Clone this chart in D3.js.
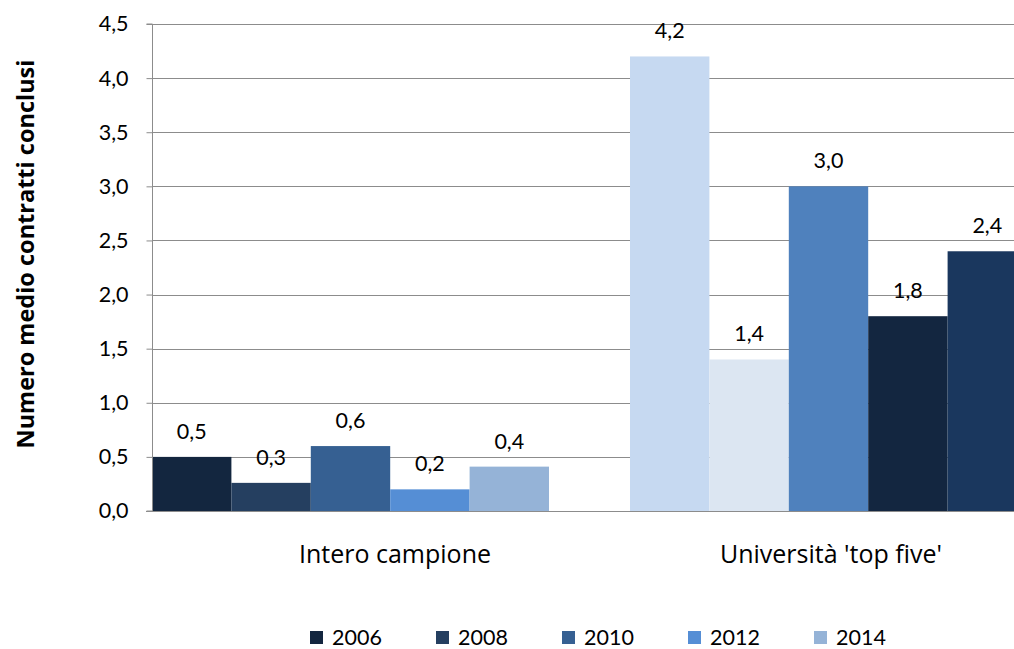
<!DOCTYPE html>
<html><head><meta charset="utf-8">
<script src="https://cdn.jsdelivr.net/npm/d3@7"></script>
<style>body{margin:0;background:#fff}svg{display:block}text{font-family:Lato,"Open Sans",sans-serif;fill:#000}</style>
</head><body><svg id="c" width="1014" height="649"></svg>
<script>
const groups = ["Intero campione", "Università 'top five'"];
const years = ["2006", "2008", "2010", "2012", "2014"];
const valuesIntero = [0.5, 0.26, 0.6, 0.2, 0.41];
const valuesTop = [4.2, 1.4, 3.0, 1.8, 2.4];
const colorsIntero = ["#13263f", "#253f60", "#366092", "#558ed5", "#95b3d7"];
const colorsTop = ["#c6d9f1", "#dce6f2", "#4f81bd", "#132640", "#1a375e"];
const legendColors = ["#13263f", "#253f60", "#366092", "#558ed5", "#95b3d7"];
const yTicks = [0, 0.5, 1, 1.5, 2, 2.5, 3, 3.5, 4, 4.5];

const svg = d3.select("#c");
const fmt = v => d3.format(".1f")(v).replace(".", ",");
const y = d3.scaleLinear().domain([0, 4.5]).range([511, 24]);
const x0 = d3.scaleBand().domain(groups).range([152, 1027]).paddingInner(81/478).paddingOuter(0);
const x1 = d3.scaleBand().domain(years).range([0, x0.bandwidth()]);
const labelX = d3.scalePoint().domain(groups).range([395, 831]);

// gridlines
svg.append("g").selectAll("line").data(yTicks.filter(d => d > 0)).join("line")
  .attr("x1", 152).attr("x2", 1014).attr("y1", d => Math.round(y(d)) + 0.5).attr("y2", d => Math.round(y(d)) + 0.5)
  .attr("stroke", "#8c8c8c").attr("stroke-width", 1);

const data = [
  {g: groups[0], vals: valuesIntero, cols: colorsIntero},
  {g: groups[1], vals: valuesTop, cols: colorsTop}
];
data.forEach(grp => {
  const gg = svg.append("g").attr("transform", `translate(${x0(grp.g)},0)`);
  const rows = years.map((yr, i) => ({yr, v: grp.vals[i], c: grp.cols[i]}));
  gg.selectAll("rect").data(rows).join("rect")
    .attr("x", d => x1(d.yr)).attr("width", x1.bandwidth())
    .attr("y", d => y(d.v)).attr("height", d => y(0) - y(d.v))
    .attr("fill", d => d.c);
  gg.selectAll("text").data(rows).join("text")
    .attr("x", d => x1(d.yr) + x1.bandwidth() / 2).attr("y", d => y(d.v) - 18)
    .attr("text-anchor", "middle").style("font-size", "21.5px").text(d => fmt(d.v));
});

// y axis
const yAxis = svg.append("g").attr("transform", "translate(152.5,0)")
  .call(d3.axisLeft(y).tickValues(yTicks).tickSize(6).tickPadding(18).tickFormat(fmt));
yAxis.select(".domain").attr("stroke", "#8c8c8c").attr("d", `M-6,${y(4.5)}H0V${y(0)}H-6`);
yAxis.selectAll(".tick line").attr("stroke", "#8c8c8c");
yAxis.selectAll(".tick text").style("font-size", "21.5px").style("font-family", "Lato,'Open Sans',sans-serif").attr("fill", "#000");

// baseline
svg.append("line").attr("x1", 146).attr("x2", 1014).attr("y1", Math.round(y(0)) + 0.5).attr("y2", Math.round(y(0)) + 0.5)
  .attr("stroke", "#8c8c8c");

// category labels
svg.append("g").selectAll("text").data(groups).join("text")
  .attr("x", d => labelX(d)).attr("y", 563).attr("text-anchor", "middle")
  .style("font-family", "'Open Sans',sans-serif").style("font-size", "25px").text(d => d);

// axis title
svg.append("text").attr("transform", "translate(34,254) rotate(-90)").attr("text-anchor", "middle")
  .style("font-family", "'Open Sans',sans-serif")
  .style("font-size", "23.5px").style("font-weight", "bold").text("Numero medio contratti conclusi");

// legend
const lg = svg.append("g").selectAll("g").data(years).join("g")
  .attr("transform", (d, i) => `translate(${310 + i * 126},637)`);
lg.append("rect").attr("x", 0).attr("y", -6).attr("width", 13).attr("height", 13).attr("fill", (d, i) => legendColors[i]);
lg.append("text").attr("x", 22).attr("y", 8).style("font-size", "21.5px").text(d => d);
</script></body></html>
